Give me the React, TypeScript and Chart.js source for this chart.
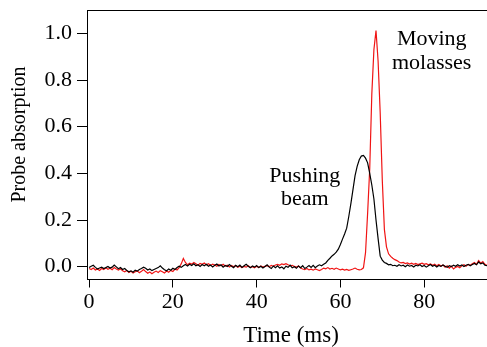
import React, { useEffect, useRef } from "react";
import { Chart, registerables } from "chart.js";

Chart.register(...registerables);

// Sampling grid of the recorded traces (ms)
const T_START = 0;
const T_STEP = 0.5;

// Probe absorption, black trace ("Pushing beam"), one value every 0.5 ms from 0 to 95 ms
const pushingBeam = [
  -0.004, 0.002, 0.006, -0.003, -0.010, -0.006, -0.002, -0.008, -0.004, 0.001,
  -0.006, -0.002, 0.007, -0.001, -0.009, -0.004, -0.012, -0.008, -0.016, -0.022,
  -0.018, -0.024, -0.015, -0.019, -0.012, -0.008, -0.002, -0.007, -0.014, -0.010,
  -0.017, -0.012, -0.008, -0.004, 0.004, -0.006, -0.013, -0.018, -0.010, -0.015,
  -0.007, -0.012, -0.004, 0.002, -0.003, 0.004, 0.009, 0.003, 0.010, 0.005,
  0.012, 0.004, 0.008, 0.001, 0.009, 0.004, 0.010, 0.002, 0.007, -0.001,
  0.006, 0.011, 0.003, 0.008, -0.002, 0.005, 0.001, 0.009, 0.002, -0.004,
  0.006, 0.000, 0.007, -0.003, 0.004, 0.010, 0.002, -0.005, 0.003, -0.002,
  0.005, -0.004, 0.002, -0.006, 0.001, 0.008, -0.002, -0.008, 0.003, -0.004,
  0.004, -0.006, -0.001, -0.009, 0.002, -0.003, 0.006, -0.005, 0.000, -0.007,
  0.003, -0.004, 0.004, -0.008, -0.002, 0.005, -0.003, 0.006, -0.004, 0.003,
  0.008, 0.004, 0.010, 0.016, 0.027, 0.036, 0.046, 0.053, 0.062, 0.075,
  0.095, 0.118, 0.140, 0.165, 0.215, 0.270, 0.330, 0.390, 0.430, 0.458,
  0.474, 0.477, 0.465, 0.445, 0.400, 0.350, 0.290, 0.200, 0.120, 0.045,
  0.028, 0.018, 0.014, 0.008, 0.010, 0.004, 0.006, 0.002, 0.008, 0.003,
  0.006, 0.000, 0.007, 0.002, 0.005, -0.001, 0.006, 0.003, 0.008, 0.001,
  0.005, -0.002, 0.004, 0.009, 0.002, 0.006, -0.001, 0.005, 0.001, 0.007,
  0.002, -0.003, 0.004, 0.000, 0.006, 0.002, 0.008, 0.003, 0.007, 0.001,
  0.006, 0.010, 0.004, 0.009, 0.014, 0.008, 0.020, 0.012, 0.016, 0.006,
  0.004,
];

// Probe absorption, red trace ("Moving molasses"), same sampling grid
const movingMolasses = [
  -0.008, -0.012, -0.006, -0.014, -0.010, -0.016, -0.008, -0.012, -0.005, -0.011,
  -0.007, -0.013, -0.004, -0.010, -0.015, -0.009, -0.018, -0.022, -0.016, -0.025,
  -0.020, -0.027, -0.022, -0.018, -0.026, -0.020, -0.012, -0.021, -0.028, -0.023,
  -0.030, -0.024, -0.019, -0.025, -0.017, -0.022, -0.027, -0.019, -0.024, -0.016,
  -0.021, -0.010, -0.014, -0.004, 0.012, 0.035, 0.018, 0.008, 0.015, 0.011,
  0.018, 0.012, 0.006, 0.014, 0.010, 0.016, 0.008, 0.013, 0.005, 0.011,
  0.007, 0.002, 0.009, 0.004, 0.010, 0.003, 0.006, -0.001, 0.005, 0.000,
  0.004, -0.003, 0.002, -0.004, 0.001, -0.002, 0.004, -0.003, 0.000, -0.005,
  0.002, -0.004, 0.003, -0.002, 0.001, 0.004, 0.000, 0.005, 0.002, 0.007,
  0.010, 0.006, 0.012, 0.009, 0.013, 0.008, 0.004, 0.006, 0.001, -0.002,
  0.003, -0.006, -0.010, -0.013, -0.008, -0.014, -0.011, -0.015, -0.010, -0.013,
  -0.017, -0.012, -0.006, -0.009, -0.004, -0.010, -0.007, -0.011, -0.006, -0.010,
  -0.014, -0.011, -0.015, -0.012, -0.016, -0.013, -0.010, -0.006, -0.011, -0.014,
  -0.012, -0.005, 0.060, 0.230, 0.420, 0.740, 0.930, 1.012, 0.880, 0.660,
  0.370, 0.160, 0.085, 0.055, 0.044, 0.036, 0.030, 0.026, 0.020, 0.016,
  0.018, 0.013, 0.016, 0.011, 0.015, 0.010, 0.014, 0.009, 0.012, 0.015,
  0.010, 0.013, 0.008, 0.012, 0.006, 0.011, 0.004, 0.009, 0.003, 0.007,
  -0.002, 0.004, -0.006, 0.002, -0.010, -0.003, 0.001, -0.005, 0.004, 0.008,
  0.002, 0.010, 0.006, 0.012, 0.018, 0.010, 0.026, 0.015, 0.022, 0.010,
  0.005,
];

const xTicks = [0, 20, 40, 60, 80];
const yTicks = [0, 0.2, 0.4, 0.6, 0.8, 1.0];
const xTitle = "Time (ms)";
const yTitle = "Probe absorption";
const pushingLabel = ["Pushing", "beam"];
const molassesLabel = ["Moving", "molasses"];

const SERIF = '"Liberation Serif", "Times New Roman", serif';

export default function App() {
  const canvasRef = useRef<HTMLCanvasElement | null>(null);

  useEffect(() => {
    const canvas = canvasRef.current;
    if (!canvas) return;

    const toPoints = (arr: number[]) =>
      arr.map((v, i) => ({ x: T_START + i * T_STEP, y: v }));

    const framePlugin = {
      id: "frameAndText",
      afterDraw(chart: any) {
        const { ctx, chartArea, scales } = chart;
        const xs = scales.x;
        const ys = scales.y;
        ctx.save();
        // top frame line
        ctx.strokeStyle = "#000";
        ctx.lineWidth = 1;
        ctx.beginPath();
        ctx.moveTo(chartArea.left, 10.5);
        ctx.lineTo(chartArea.right, 10.5);
        ctx.stroke();

        ctx.fillStyle = "#000";
        // x title
        ctx.font = `23px ${SERIF}`;
        ctx.textAlign = "center";
        ctx.textBaseline = "alphabetic";
        ctx.fillText(xTitle, 291, 342);

        // y title
        ctx.save();
        ctx.translate(24.5, 134.5);
        ctx.rotate(-Math.PI / 2);
        ctx.font = `20px ${SERIF}`;
        ctx.fillText(yTitle, 0, 0);
        ctx.restore();

        // annotations
        ctx.font = `22px ${SERIF}`;
        const px = xs.getPixelForValue(51.5);
        ctx.fillText(pushingLabel[0], px, ys.getPixelForValue(0.363));
        ctx.fillText(pushingLabel[1], px, ys.getPixelForValue(0.264));
        const mx = xs.getPixelForValue(81.8);
        ctx.fillText(molassesLabel[0], mx, ys.getPixelForValue(0.95));
        ctx.fillText(molassesLabel[1], mx, ys.getPixelForValue(0.846));
        ctx.restore();
      },
    };

    const chart = new Chart(canvas, {
      type: "line",
      data: {
        datasets: [
          {
            label: "Pushing beam",
            data: toPoints(pushingBeam),
            borderColor: "#000000",
            borderWidth: 1.2,
            pointRadius: 0,
            tension: 0,
            fill: false,
          },
          {
            label: "Moving molasses",
            data: toPoints(movingMolasses),
            borderColor: "#f01414",
            borderWidth: 1.2,
            pointRadius: 0,
            tension: 0,
            fill: false,
          },
        ],
      },
      options: {
        animation: false,
        responsive: false,
        events: [],
        layout: { padding: { top: 10, right: 0, left: 0, bottom: 0 } },
        plugins: {
          legend: { display: false },
          tooltip: { enabled: false },
        },
        scales: {
          x: {
            type: "linear",
            min: -0.5,
            max: 95,
            afterBuildTicks: (scale: any) => {
              scale.ticks = xTicks.map((v) => ({ value: v }));
            },
            afterFit: (scale: any) => {
              scale.height = 67.5;
              scale.paddingLeft = 0;
              scale.paddingRight = 0;
            },
            ticks: {
              color: "#000",
              font: { family: SERIF, size: 22 },
              padding: 2,
              maxRotation: 0,
              callback: (v: any) => String(v),
            },
            grid: {
              display: true,
              drawOnChartArea: false,
              drawTicks: true,
              tickLength: 8,
              tickColor: "#000",
              tickWidth: 1,
            },
            border: { display: true, color: "#000", width: 1 },
          },
          y: {
            type: "linear",
            min: -0.055,
            max: 1.1,
            afterBuildTicks: (scale: any) => {
              scale.ticks = yTicks.map((v) => ({ value: v }));
            },
            afterFit: (scale: any) => {
              scale.width = 87;
              scale.paddingTop = 0;
              scale.paddingBottom = 0;
            },
            ticks: {
              color: "#000",
              font: { family: SERIF, size: 22 },
              padding: 5,
              callback: (v: any) => Number(v).toFixed(1),
            },
            grid: {
              display: true,
              drawOnChartArea: false,
              drawTicks: true,
              tickLength: 10,
              tickColor: "#000",
              tickWidth: 1,
            },
            border: { display: true, color: "#000", width: 1 },
          },
        },
      },
      plugins: [framePlugin],
    });

    return () => chart.destroy();
  }, []);

  return (
    <div style={{ position: "fixed", left: 0, top: 0, width: 487, height: 347 }}>
      <canvas ref={canvasRef} width={487} height={347} style={{ display: "block" }} />
    </div>
  );
}
